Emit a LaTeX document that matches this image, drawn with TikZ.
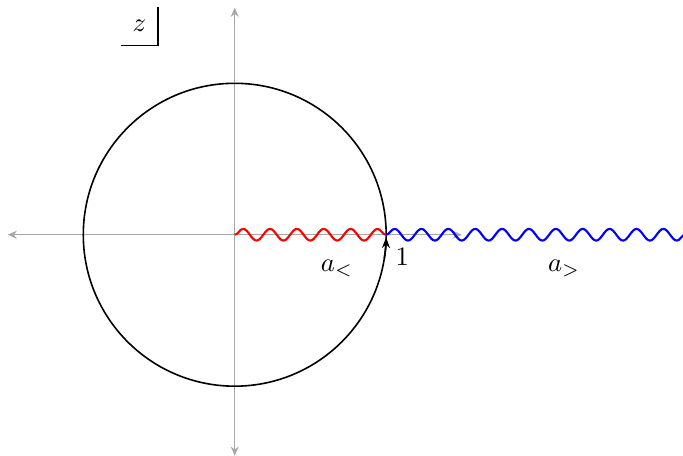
\documentclass[tikz,border=0pt]{standalone}
\usepackage{amsmath}
\usetikzlibrary{arrows.meta,decorations.pathmorphing}
\definecolor{axisgrey}{HTML}{A8A8A8}

\begin{document}
\begin{tikzpicture}[
    axisline/.style={axisgrey,line width=0.4pt,
      {Stealth[length=3.5pt,width=3pt]}-{Stealth[length=3.5pt,width=3pt]}},
    cutline/.style={line width=0.8pt,decorate,
      decoration={snake,amplitude=2.2pt,segment length=0.355cm}},
  ]
  \useasboundingbox (-3.1,-2.92) rectangle (5.92,3.1);
  % axes of the z-plane
  \coordinate (O)  at (0,0);
  \coordinate (xl) at (-3,0);
  \coordinate (xr) at (3,0);
  \coordinate (yb) at (0,-2.92);
  \coordinate (yt) at (0,3);
  \draw[axisline] (xl) -- (xr);
  \draw[axisline] (yb) -- (yt);
  % unit circle, run counter-clockwise
  \draw[semithick] (O) circle (2);
  \draw[semithick,-{Stealth[length=4pt,width=3pt]}] (-9:2) arc (-9:-1:2);
  % the two cuts, inside and outside the circle
  \coordinate (one) at (2,0);
  \coordinate (far) at (6,0);
  \draw[cutline,red]  (O) -- (one);
  \draw[cutline,blue] (one) -- (far);
  \node (onelab) [anchor=north west,yshift=-1.5pt] at (one) {$1$};
  \node (alo) at (1.35,-0.44) {$a_<$};
  \node (ahi) at (4.35,-0.44) {$a_>$};
  % plane label
  \node (zlab) [minimum width=0.48cm,minimum height=0.49cm,inner sep=0pt]
    at (-1.26,2.755) {$z$};
  \draw (zlab.south west) -- (zlab.south east) -- (zlab.north east);
\end{tikzpicture}
\end{document}
